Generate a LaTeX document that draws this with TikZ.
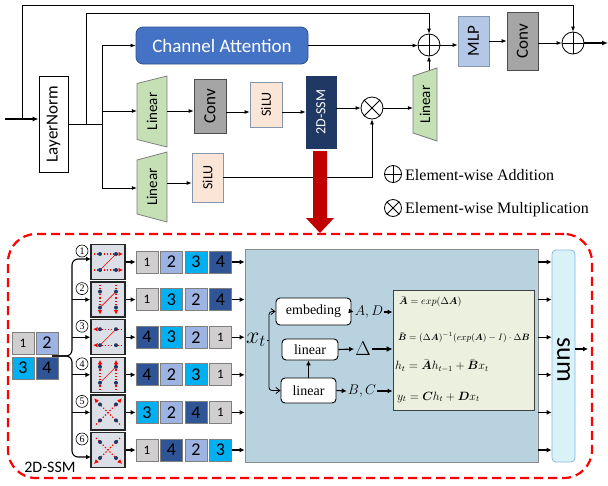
\RequirePackage{fix-cm}
\documentclass[tikz,border=0pt]{standalone}
\usepackage{amsmath}
\usepackage{graphicx}
\usepackage{fontspec}
\setmainfont{Liberation Serif}
\newfontfamily\carl{Carlito}
\usetikzlibrary{arrows.meta,calc}
\definecolor{caBlue}{HTML}{4472C4}
\definecolor{caBorder}{HTML}{2F528F}
\definecolor{linGreen}{HTML}{C5E0B4}
\definecolor{convGray}{HTML}{A5A5A5}
\definecolor{siluPink}{HTML}{FBE5D6}
\definecolor{ssmNavy}{HTML}{203864}
\definecolor{mlpBlue}{HTML}{B4C7E7}
\definecolor{darkRed}{HTML}{C00000}
\definecolor{c1}{HTML}{D0CECE}
\definecolor{c2}{HTML}{9DB3E2}
\definecolor{c3}{HTML}{00B0F0}
\definecolor{c4}{HTML}{2F5597}
\definecolor{bigBlue}{HTML}{B8D2E0}
\definecolor{eqGreen}{HTML}{EBF1DE}
\definecolor{sumCyan}{HTML}{D9F2F7}
\definecolor{sumBorder}{HTML}{8EB4E3}
\definecolor{patGray}{HTML}{DCE0E6}
\definecolor{grayBorder}{HTML}{7F7F7F}
\definecolor{blueBorder}{HTML}{8497B0}
\newcommand\cellnum[1]{\ifnum#1=1 {\fontsize{13}{13}\selectfont 1}\else #1\fi}
\newcommand\patdots{\foreach \p in {(-8,-8),(8,-8),(-8,8),(8,8)} \fill[ssmNavy] \p circle (2pt);}
\tikzset{
  conn/.style={line width=0.8pt},
  arr/.style={conn,-{Latex[length=5pt,width=4pt]}},
  barr/.style={line width=1.6pt,-{Latex[length=6pt,width=5pt]}},
  arrB/.style={line width=1.1pt,-{Latex[length=5pt,width=5pt]}},
  barb/.style={line width=0.8pt,-{Straight Barb[length=4pt,width=6pt]}},
  vb/.style={inner sep=0pt, line width=0.8pt, font=\carl\fontsize{15}{15}\selectfont},
  opc/.style={circle, draw, line width=0.8pt, minimum size=22pt, inner sep=0pt},
  lgc/.style={circle, draw, line width=0.8pt, minimum size=17pt, inner sep=0pt},
  cell/.style={draw=grayBorder, line width=0.8pt, minimum width=22pt, minimum height=22pt, inner sep=0pt, font=\carl\fontsize{18}{18}\selectfont},
  patbox/.style={draw=black!85, fill=patGray, line width=1.5pt, minimum width=34pt, minimum height=35pt, inner sep=0pt},
  pd/.style={red, dotted, line width=1.2pt, -{Latex[length=4.5pt,width=4.5pt]}},
  pl/.style={red, line width=0.6pt},
  numc/.style={circle, draw, line width=0.6pt, minimum size=12pt, inner sep=0pt, font=\fontsize{10}{10}\selectfont},
  sbox/.style={draw, fill=white, rounded corners=4pt, line width=0.9pt, inner sep=0pt, font=\fontsize{14}{14}\selectfont},
  eqt/.style={anchor=west, inner sep=0pt},
}
\newcommand\trapnode[6]{% name, cx, cy, halfw, half left h, half right h
  \draw[fill=linGreen, draw=grayBorder, line width=0.8pt] (#2-#4,#3-#5) -- (#2+#4,#3-#6) -- (#2+#4,#3+#6) -- (#2-#4,#3+#5) -- cycle;
  \node[inner sep=0pt, minimum width=2*#4 pt, minimum height=2*#6 pt] (#1) at (#2,#3) {};
  \node[vb] at (#1) {\rotatebox{90}{Linear}};
}
\begin{document}
\begin{tikzpicture}[x=1pt,y=-1pt]
\useasboundingbox (0,0) rectangle (608,485);
\fill[white] (0,0) rectangle (608,485);

% ---------- top part ----------
\node[vb, draw, fill=white, minimum width=29pt, minimum height=96pt, font=\carl\fontsize{17}{17}\selectfont] (LN) at (53.5,124) {\rotatebox{90}{LayerNorm}};
\node[draw=caBorder, fill=caBlue, line width=0.8pt, rounded corners=7pt, minimum width=172pt, minimum height=37pt, text=white, font=\carl\fontsize{19}{19}\selectfont] (CA) at (222,45.5) {Channel Attention};
\trapnode{L1}{152}{111.5}{15}{28}{35.5}
\trapnode{L2}{152}{187}{15}{27}{35}
\trapnode{L3}{425}{104.5}{12}{28.5}{36.5}
\node[vb, draw=black!70, fill=convGray, minimum width=32pt, minimum height=54pt, font=\carl\fontsize{17}{17}\selectfont] (C1) at (210,106) {\rotatebox{90}{Conv}};
\node[vb, draw=blueBorder, fill=siluPink, minimum width=32pt, minimum height=45pt, font=\carl\fontsize{14}{14}\selectfont] (S1) at (266,104.5) {\rotatebox{90}{SiLU}};
\node[vb, draw=blueBorder, fill=siluPink, minimum width=31pt, minimum height=49pt, font=\carl\fontsize{14}{14}\selectfont] (S2) at (207.5,177.5) {\rotatebox{90}{SiLU}};
\node[vb, draw=ssmNavy, fill=ssmNavy, text=white, minimum width=30pt, minimum height=72pt, font=\carl\fontsize{14}{14}\selectfont] (SSM) at (321,112) {\rotatebox{90}{2D-SSM}};
\node[vb, draw=blueBorder, fill=mlpBlue, minimum width=31pt, minimum height=50pt, font=\carl\fontsize{17}{17}\selectfont] (MLP) at (473.5,41) {\rotatebox{90}{MLP}};
\node[vb, draw=black!70, fill=convGray, minimum width=31pt, minimum height=58pt, font=\carl\fontsize{17}{17}\selectfont] (C2) at (522.5,41) {\rotatebox{90}{Conv}};
\node[opc] (op1) at (429,45) {};
\draw[conn] (op1.north) -- (op1.south) (op1.west) -- (op1.east);
\node[opc] (op2) at (573,43) {};
\draw[conn] (op2.north) -- (op2.south) (op2.west) -- (op2.east);
\node[opc] (ot) at (372,108) {};
\draw[conn] (ot.north west) -- (ot.south east) (ot.north east) -- (ot.south west);

\coordinate (in) at (5,119);
\coordinate (sk1) at (22,119);
\coordinate (top1) at (22,5);
\coordinate (b2) at (86,124);
\coordinate (top2) at (86,13);
\coordinate (bus) at (102,124);
\coordinate (busT) at (102,45.5);
\coordinate (busB) at (102,188);
\coordinate (busL1) at (102,111);
\coordinate (r1) at (226,112);
\coordinate (r2) at (167,183);
\coordinate (l3top) at (429,70.3);
\coordinate (out) at (608,43);

\draw[barr] (in) -- (in -| LN.west);
\draw[arr] (sk1) -- (top1) -| (op2.north);
\draw[conn] (LN.east) -- (bus);
\draw[arr] (b2) -- (top2) -| (op1.north);
\draw[conn] (busT) -- (busB);
\draw[arr] (busT) -- (CA.west);
\draw[arr] (busL1) -- (busL1 -| L1.west);
\draw[arr] (busB) -- (busB -| L2.west);
\draw[arr] (L1.east |- busL1) -- (busL1 -| C1.west);
\draw[arr] (C1.east |- r1) -- (r1 -| S1.west);
\draw[arr] (S1.east |- r1) -- (r1 -| SSM.west);
\draw[arr] (SSM.east |- ot) -- (ot.west);
\draw[arr] (ot.east) -- (ot.east -| L3.west);
\draw[arr] (l3top) -- (op1.south);
\draw[arr] (CA.east) -- (CA.east -| op1.west);
\draw[arr] (op1.east) -- (op1.east -| MLP.west);
\draw[arr] (MLP.east) -- (MLP.east -| C2.west);
\draw[arr] (C2.east |- op2) -- (op2.west);
\draw[barr] (op2.east) -- (out);
\draw[arr] (r2) -- (r2 -| S2.west);
\draw[arr] (S2.east) -| (ot.south);

% red arrow
\fill[darkRed] (313,151) -- (327,151) -- (327,218) -- (334,218) -- (320,233) -- (306,218) -- (313,218) -- cycle;

% legend
\node[lgc] (lgA) at (393,174) {};
\draw[conn] (lgA.north) -- (lgA.south) (lgA.west) -- (lgA.east);
\node[lgc] (lgM) at (393,208) {};
\draw[conn] (lgM.north west) -- (lgM.south east) (lgM.north east) -- (lgM.south west);
\node[anchor=west, inner sep=0pt, font=\fontsize{16}{16}\selectfont] (lgAt) at (405,175) {Element-wise Addition};
\node[anchor=west, inner sep=0pt, font=\fontsize{16}{16}\selectfont] (lgMt) at (405,210) {Element-wise Multiplication};

% ---------- bottom part ----------
\node[draw=red, line width=2.2pt, dash pattern=on 9pt off 5pt, rounded corners=28pt, minimum width=584pt, minimum height=244pt, inner sep=0pt] (frame) at (300,356) {};
\node[font=\carl\fontsize{16}{16}\selectfont, inner sep=1pt] (lbl) at (50,467) {2D-SSM};

% 2x2 grid
\node[cell, fill=c1] (g1) at (23,343) {\cellnum{1}};
\node[cell, fill=c2] (g2) at (47,343) {2};
\node[cell, fill=c3] (g3) at (23,368) {3};
\node[cell, fill=c4] (g4) at (47,368) {4};

% big box and sum
\node[draw=black!45, fill=bigBlue, line width=0.8pt, minimum width=293pt, minimum height=213pt, inner sep=0pt] (BB) at (391.5,355.5) {};
\node[draw=sumBorder, fill=sumCyan, line width=0.8pt, rounded corners=4pt, minimum width=23pt, minimum height=212pt, inner sep=0pt] (SUM) at (563.5,356) {};
\node[inner sep=0pt, font=\carl\fontsize{26}{26}\selectfont] (SUMt) at (563.5,360) {\rotatebox{-90}{sum}};
\coordinate (sout) at (588,349);
\draw[arrB] (SUM.east |- sout) -- (sout);

% pattern boxes, rows
\foreach \r/\a/\b/\c/\d in {1/1/2/3/4, 2/1/3/2/4, 3/4/3/2/1, 4/4/2/3/1, 5/3/2/4/1, 6/1/4/2/3} {
  \pgfmathsetmacro\yc{262+37.6*(\r-1)}
  \node[patbox] (P\r) at (108,\yc) {};
  \node[numc] (n\r) at (82,\yc-11) {\r};
  \foreach \j/\v in {1/\a, 2/\b, 3/\c, 4/\d} {
    \node[cell, fill=c\v] (s\r\j) at (147+24.5*\j-24.5,\yc) {\cellnum{\v}};
  }
  \draw[arrB] (P\r.east) -- (s\r1.west);
  \draw[arrB] (s\r4.east) -- (s\r4.east -| BB.west);
  \draw[arrB] (BB.east |- s\r4) -- (SUM.west |- s\r4);
}
% fan
\coordinate (fanS) at (52,356);
\coordinate (fanM) at (72,356);
\coordinate (a1) at (91,259);
\coordinate (a6) at (91,457);
\draw[arrB, rounded corners=6pt] (fanS) -- (fanM) |- (a1);
\draw[arrB, rounded corners=6pt] (fanS) -- (fanM) |- (a6);
\foreach \r in {2,3,4,5} {
  \coordinate (m\r) at (72,{262+37.6*(\r-1)});
  \draw[arrB] (m\r) -- (m\r -| P\r.west);
}

% patterns
\begin{scope}[shift={(P1.center)}]
  \draw[pl] (8,-8) -- (-8,8);
  \draw[pd] (-14,-8) -- (15,-8);
  \draw[pd] (-14,8) -- (15,8);
  \patdots
\end{scope}
\begin{scope}[shift={(P2.center)}]
  \draw[pl] (-8,8) -- (8,-8);
  \draw[pd] (-8,-15) -- (-8,15);
  \draw[pd] (8,-15) -- (8,15);
  \patdots
\end{scope}
\begin{scope}[shift={(P3.center)}]
  \draw[pl] (-8,8) -- (8,-8);
  \draw[pd] (14,-8) -- (-15,-8);
  \draw[pd] (14,8) -- (-15,8);
  \patdots
\end{scope}
\begin{scope}[shift={(P4.center)}]
  \draw[pl] (-8,8) -- (8,-8);
  \draw[pd] (-8,15) -- (-8,-15);
  \draw[pd] (8,15) -- (8,-15);
  \patdots
\end{scope}
\begin{scope}[shift={(P5.center)}]
  \draw[pd] (12,12) -- (-14,-14);
  \draw[pd] (-12,12) -- (14,-14);
  \patdots
\end{scope}
\begin{scope}[shift={(P6.center)}]
  \draw[pd] (-12,-12) -- (14,14);
  \draw[pd] (12,-12) -- (-14,14);
  \patdots
\end{scope}

% inner SSM block
\node[inner sep=1pt, font=\fontsize{24}{24}\selectfont] (xt) at (256,340) {$x_t$};
\coordinate (xj) at (269,340);
\node[sbox, minimum width=75pt, minimum height=27pt] (EMB) at (313.5,311.5) {embeding};
\node[sbox, minimum width=56pt, minimum height=21pt] (LT) at (310,349.5) {linear};
\node[sbox, minimum width=55pt, minimum height=25pt] (LB) at (308.5,390.5) {linear};
\draw[conn] (xt.east) -- (xj);
\draw[barb, rounded corners=3pt] (xj) |- (EMB.west);
\draw[barb, rounded corners=3pt] (xj) |- (LB.west);
\draw[arrB] (LB.north) -- (LB.north |- LT.south);

\node[draw=black!75, fill=eqGreen, line width=1pt, minimum width=141pt, minimum height=120pt, inner sep=0pt] (EQ) at (463.5,350) {};
\node[inner sep=1pt, font=\fontsize{14}{14}\selectfont] (AD) at (369,312) {$A,D$};
\node[inner sep=1pt, font=\fontsize{20}{20}\selectfont] (DL) at (363,349) {$\Delta$};
\node[inner sep=1pt, font=\fontsize{14}{14}\selectfont] (BC) at (362,391) {$B,C$};
\draw[arrB] (EMB.east) -- (AD.west);
\draw[arrB] (AD.east) -- (AD.east -| EQ.west);
\draw[arrB] (LT.east) -- (DL.west);
\draw[line width=1.4pt,-{Latex[length=6pt,width=6pt]}] (DL.east) -- (DL.east -| EQ.west);
\draw[arrB] (LB.east) -- (BC.west);
\draw[arrB] (BC.east) -- (BC.east -| EQ.west);

\node[eqt, font=\fontsize{10}{10}\selectfont] (e1) at (399,302) {$\bar{\boldsymbol{A}} = exp(\Delta\boldsymbol{A})$};
\node[eqt, font=\fontsize{9.2}{9.2}\selectfont] (e2) at (398,338) {$\bar{\boldsymbol{B}} = (\Delta\boldsymbol{A})^{-1}(exp(\boldsymbol{A}) - I)\cdot\Delta\boldsymbol{B}$};
\node[eqt, font=\fontsize{12}{12}\selectfont] (e3) at (395,366) {$h_t = \bar{\boldsymbol{A}}h_{t-1} + \bar{\boldsymbol{B}}x_t$};
\node[eqt, font=\fontsize{12}{12}\selectfont] (e4) at (397,397) {$y_t = \boldsymbol{C}h_t + \boldsymbol{D}x_t$};
\end{tikzpicture}
\end{document}
